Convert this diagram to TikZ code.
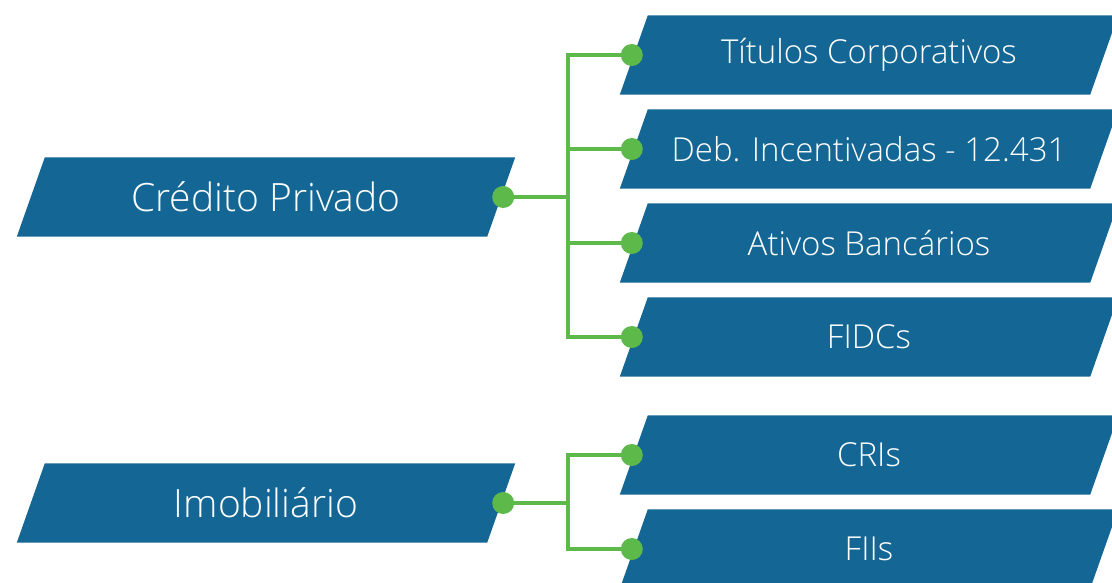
\documentclass[tikz,border=0pt]{standalone}
\usepackage{fontspec}
\setmainfont{Open Sans Light}
\usepackage{tikz}
\usetikzlibrary{positioning,backgrounds}
\definecolor{boxblue}{HTML}{146794}
\definecolor{linkgreen}{HTML}{5CB94A}

\tikzset{
  slantbox/.style={rectangle, text=white, inner sep=0pt,
    minimum width=470pt, minimum height=79pt},
  groupbox/.style={slantbox, font=\fontsize{39}{44}\selectfont},
  itembox/.style={slantbox, font=\fontsize{33}{38}\selectfont},
  dot/.style={circle, fill=linkgreen, inner sep=0pt, minimum size=22pt},
  link/.style={linkgreen, line width=4pt}
}

\begin{document}
\begin{tikzpicture}[x=1pt, y=-1pt]
  \useasboundingbox (0,0) rectangle (1112,583);

  % === Left: groups ===
  \node[groupbox] (cp) at (266,197) {Crédito Privado};
  \node[groupbox] (imob) at (266,503) {Imobiliário};

  % === Right: items ===
  \node[itembox] (tit) at (869,55) {Títulos Corporativos};
  \node[itembox] (deb) at (869,149) {Deb. Incentivadas - 12.431};
  \node[itembox] (atv) at (869,243) {Ativos Bancários};
  \node[itembox] (fidc) at (869,337) {FIDCs};
  \node[itembox] (cri) at (869,455) {CRIs};
  \node[itembox] (fii) at (869,549) {FIIs};

  % Dots
  \node[dot] (cpdot) at ([xshift=2pt]cp.east) {};
  \node[dot] (imobdot) at ([xshift=2pt]imob.east) {};
  \foreach \b in {tit,deb,atv,fidc,cri,fii} {
    \node[dot] (\b dot) at ([xshift=-2pt]\b.west) {};
  }

  % Trunk x position
  \coordinate (trunk) at (568,0);

  \begin{pgfonlayer}{background}
    % Slanted boxes
    \foreach \b in {cp,imob,tit,deb,atv,fidc,cri,fii} {
      \fill[boxblue] ([xshift=-14pt]\b.south west) -- ([xshift=14pt]\b.north west)
        -- ([xshift=14pt]\b.north east) -- ([xshift=-14pt]\b.south east) -- cycle;
    }
    % Connectors
    \foreach \b in {tit,deb,atv,fidc} {
      \draw[link] (cpdot.center) -- (cpdot.center -| trunk) |- (\b dot.center);
    }
    \foreach \b in {cri,fii} {
      \draw[link] (imobdot.center) -- (imobdot.center -| trunk) |- (\b dot.center);
    }
  \end{pgfonlayer}
\end{tikzpicture}
\end{document}
